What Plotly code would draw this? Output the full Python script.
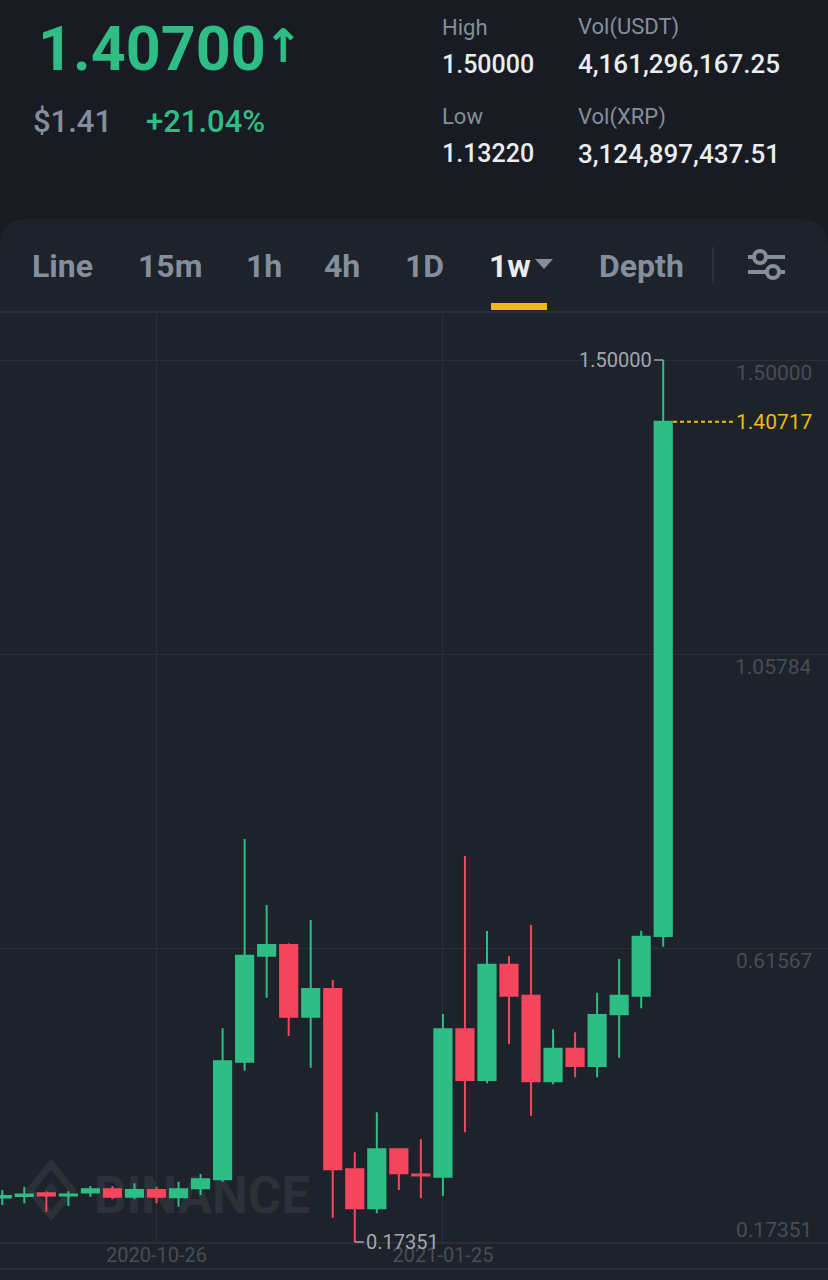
import pandas as pd
import plotly.graph_objects as go

# weekly XRP/USDT candles
weeks = pd.date_range("2020-09-07", periods=31, freq="7D")
opens = [0.2404, 0.2427, 0.2468, 0.2434, 0.2478, 0.2527, 0.2417, 0.2517, 0.2408, 0.2542,
         0.2677, 0.4447, 0.6041, 0.6202, 0.5124, 0.5540, 0.2829, 0.2242, 0.3129, 0.2750,
         0.2717, 0.4934, 0.4172, 0.5906, 0.5440, 0.4152, 0.4643, 0.4382, 0.5160, 0.5440, 0.6337]
highs = [0.2517, 0.2567, 0.2493, 0.2500, 0.2578, 0.2578, 0.2618, 0.2567, 0.2642, 0.2757,
         0.4949, 0.7796, 0.6804, 0.6227, 0.6578, 0.5675, 0.3084, 0.3686, 0.3144, 0.3285,
         0.5164, 0.7541, 0.6413, 0.6032, 0.6503, 0.4934, 0.4889, 0.5485, 0.5991, 0.6417, 1.5]
lows = [0.2291, 0.2318, 0.2191, 0.2277, 0.2417, 0.2377, 0.2377, 0.2318, 0.2267, 0.2442,
        0.2642, 0.4312, 0.5410, 0.4833, 0.4356, 0.2101, 0.17351, 0.2167, 0.2517, 0.2392,
        0.2427, 0.3385, 0.4122, 0.4713, 0.3635, 0.4107, 0.4212, 0.4212, 0.4507, 0.5250, 0.6177]
closes = [0.2427, 0.2450, 0.2434, 0.2450, 0.2530, 0.2417, 0.2517, 0.2417, 0.2527, 0.2677,
          0.4453, 0.6041, 0.6202, 0.5124, 0.5540, 0.2829, 0.2242, 0.3129, 0.2769, 0.2735,
          0.4934, 0.4172, 0.5906, 0.5440, 0.4152, 0.4643, 0.4382, 0.5150, 0.5440, 0.6327, 1.40717]

price_ticks = [0.17351, 0.61567, 1.05784, 1.50000]
date_ticks = ["2020-10-26", "2021-01-25"]

header_stats = [("High", "1.50000"), ("Low", "1.13220")]
header_vols = [("Vol(USDT)", "4,161,296,167.25"), ("Vol(XRP)", "3,124,897,437.51")]
tabs = ["Line", "15m", "1h", "4h", "1D", "1w", "Depth"]
tab_x = [30, 136, 244, 322, 403, 487, 597]

GREEN = "#2ebd85"
RED = "#f6465d"
YELLOW = "#f0b90b"
GREY = "#848e9c"
DIM = "#474d57"
GRID = "#2a2f37"
HEAD_BG = "#181c22"
PANEL_BG = "#1e222a"

W, H = 828, 1280
PLOT_TOP, PLOT_BOT = 312, 1242


def px(x):
    return x / W


def py(y):
    return (PLOT_BOT - y) / (PLOT_BOT - PLOT_TOP)


fig = go.Figure()
fig.add_trace(go.Candlestick(
    x=weeks, open=opens, high=highs, low=lows, close=closes,
    increasing=dict(line=dict(color=GREEN, width=2), fillcolor=GREEN),
    decreasing=dict(line=dict(color=RED, width=2), fillcolor=RED),
    whiskerwidth=0, hoverinfo="skip", showlegend=False,
))

week = pd.Timedelta(days=7)
x0 = weeks[0] - 0.104 * week
x1 = weeks[0] + 37.48 * week

shapes = []
ann = []

# panel with rounded top corners
r = 28
shapes.append(dict(
    type="path", xref="paper", yref="paper", layer="below", line=dict(width=0), fillcolor=PANEL_BG,
    path=(f"M 0,{py(1290)} L 0,{py(219 + r)} Q 0,{py(219)} {px(r)},{py(219)} "
          f"L {px(W - r)},{py(219)} Q 1,{py(219)} 1,{py(219 + r)} L 1,{py(1290)} Z"),
))
# separators
shapes.append(dict(type="line", xref="paper", yref="paper", x0=0, x1=1, y0=py(312), y1=py(312),
                   line=dict(color=GRID, width=2)))
shapes.append(dict(type="line", xref="paper", yref="paper", x0=0, x1=1, y0=py(1269), y1=py(1269),
                   line=dict(color=GRID, width=2)))

# watermark
cx, cy, hw, hh = 51, 1190, 21, 26
shapes.append(dict(
    type="path", xref="paper", yref="paper", layer="below", line=dict(color="#2c3139", width=7),
    path=f"M {px(cx)},{py(cy - hh)} L {px(cx + hw)},{py(cy)} L {px(cx)},{py(cy + hh)} L {px(cx - hw)},{py(cy)} Z",
))
shapes.append(dict(
    type="path", xref="paper", yref="paper", layer="below", line=dict(width=0), fillcolor="#2c3139",
    path=f"M {px(cx)},{py(cy - 8)} L {px(cx + 7)},{py(cy)} L {px(cx)},{py(cy + 8)} L {px(cx - 7)},{py(cy)} Z",
))
shapes.append(dict(
    type="rect", xref="paper", yref="paper", layer="below", line=dict(width=0),
    fillcolor="rgba(0,0,0,0)", x0=px(88), x1=px(316), y0=py(1216), y1=py(1166),
    label=dict(text="BINANCE", textposition="middle center",
               font=dict(family="Roboto", size=51, color="#2c3139", weight="bold")),
))

# last price dashed line
shapes.append(dict(type="line", xref="paper", yref="y", x0=px(673), x1=px(735),
                   y0=closes[-1], y1=closes[-1], line=dict(color=YELLOW, width=2, dash="4px,3px")))

# tab bar decorations
shapes.append(dict(type="rect", xref="paper", yref="paper", x0=px(491), x1=px(547),
                   y0=py(310), y1=py(303), fillcolor=YELLOW, line=dict(width=0)))
shapes.append(dict(type="path", xref="paper", yref="paper", fillcolor=GREY, line=dict(width=0),
                   path=f"M {px(535)},{py(259)} L {px(553)},{py(259)} L {px(544)},{py(269)} Z"))
shapes.append(dict(type="line", xref="paper", yref="paper", x0=px(713), x1=px(713),
                   y0=py(247), y1=py(283), line=dict(color="#2b3139", width=2)))
for ly, cxx in [(257, 760), (272, 773)]:
    shapes.append(dict(type="line", xref="paper", yref="paper", x0=px(748), x1=px(785),
                       y0=py(ly), y1=py(ly), line=dict(color=GREY, width=4)))
    shapes.append(dict(type="circle", xref="paper", yref="paper", x0=px(cxx - 6), x1=px(cxx + 6),
                       y0=py(ly - 6), y1=py(ly + 6), fillcolor=PANEL_BG, line=dict(color=GREY, width=4)))


def text(x, y, s, size, color, anchor="left", weight="normal", family="Roboto"):
    ann.append(dict(x=px(x), y=py(y), xref="paper", yref="paper", text=s, showarrow=False,
                    xanchor=anchor, yanchor="middle",
                    font=dict(family=family, size=size, color=color, weight=weight)))


# header
text(36, 49, "1.40700", 61, GREEN, weight="bold")
text(262, 46, "↑", 46, GREEN, weight="bold", family="DejaVu Sans")
text(31, 121, "$1.41", 31, GREY, weight=500)
text(144, 121, "+21.04%", 31, GREEN, weight=500)
for (lab, val), y in zip(header_stats, [27, 117]):
    text(440, y, lab, 22, GREY)
    text(440, y + 37, val, 25, "#eaecef", weight=500)
for (lab, val), y in zip(header_vols, [27, 117]):
    text(576, y, lab, 22, GREY)
    text(576, y + 37, val, 26, "#eaecef", weight=500)

# tabs
for t, x in zip(tabs, tab_x):
    text(x, 266, t, 32, "#eaecef" if t == "1w" else GREY, weight="bold")

# price scale labels
for v in price_ticks:
    bottom = v == price_ticks[0]
    ann.append(dict(x=1, y=v, xref="paper", yref="y", text=f"{v:.5f}", showarrow=False,
                    xanchor="right", yanchor="bottom" if bottom else "top",
                    xshift=-14, yshift=-2 if bottom else 1,
                    font=dict(family="Roboto", size=21, color=DIM)))
ann.append(dict(x=1, y=closes[-1], xref="paper", yref="y", text=f"{closes[-1]:.5f}", showarrow=False,
                xanchor="right", yanchor="middle", xshift=-14,
                font=dict(family="Roboto", size=21, color=YELLOW)))

# high / low markers
hi = highs.index(max(highs))
lo = lows.index(min(lows))
ann.append(dict(x=weeks[hi], y=highs[hi], xref="x", yref="y", text=f"{highs[hi]:.5f}",
                showarrow=True, arrowhead=0, arrowwidth=1.5, arrowcolor="#a1a7b0", ax=-9, ay=0,
                xanchor="right", standoff=0, font=dict(family="Roboto", size=20, color="#a1a7b0")))
ann.append(dict(x=weeks[lo], y=lows[lo], xref="x", yref="y", text=f"{lows[lo]:.5f}",
                showarrow=True, arrowhead=0, arrowwidth=1.5, arrowcolor="#a1a7b0", ax=9, ay=0,
                xanchor="left", standoff=0, font=dict(family="Roboto", size=20, color="#a1a7b0")))

fig.update_layout(
    width=W, height=H,
    margin=dict(l=0, r=0, t=PLOT_TOP, b=H - PLOT_BOT),
    paper_bgcolor=HEAD_BG, plot_bgcolor="rgba(0,0,0,0)",
    boxgap=0.22, boxgroupgap=0,
    shapes=shapes, annotations=ann,
    xaxis=dict(range=[x0, x1], rangeslider=dict(visible=False), tickvals=date_ticks,
               ticktext=date_ticks, tickfont=dict(family="Roboto", size=20, color=DIM),
               ticklabelstandoff=-6,
               showgrid=True, gridcolor=GRID, gridwidth=1, zeroline=False,
               showline=True, linecolor=GRID, linewidth=2, ticks=""),
    yaxis=dict(range=[0.17351, 1.57219], tickvals=price_ticks, showticklabels=False,
               showgrid=True, gridcolor=GRID, gridwidth=1, zeroline=False, side="right"),
)

fig.write_html("out.html", config={"displayModeBar": False},
               post_script="document.body.style.margin='0';document.body.style.background='#1e222a';")
